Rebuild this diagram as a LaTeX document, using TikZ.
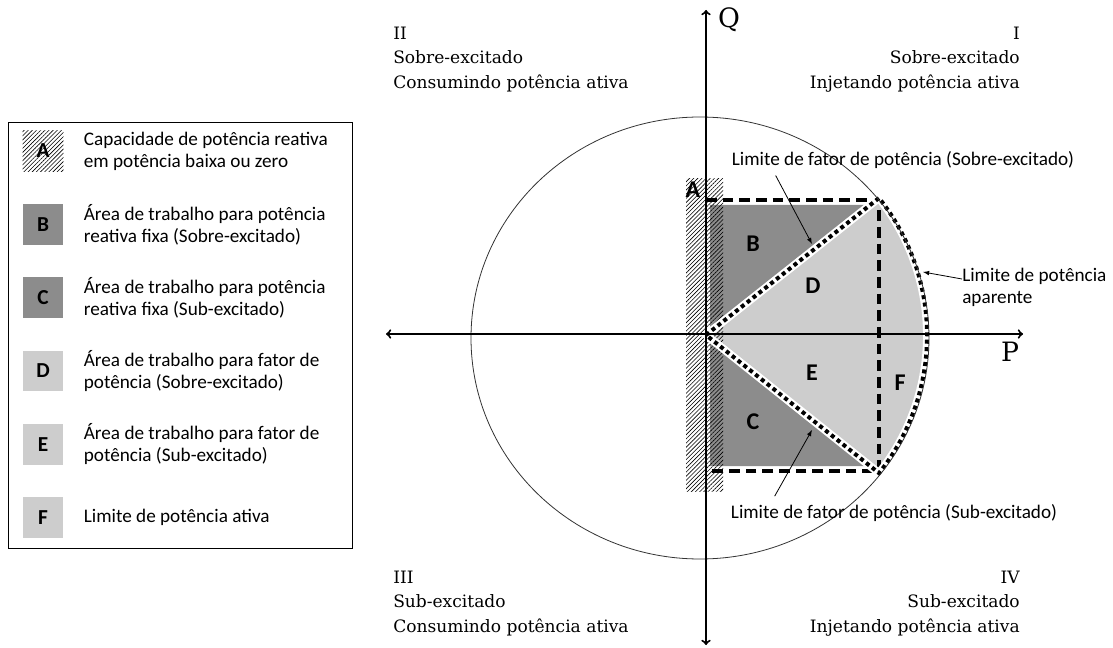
\documentclass[tikz,border=0pt]{standalone}
\usepackage{fontspec}
\setmainfont{DejaVu Serif}
\newfontfamily\calfont{Carlito}
\usetikzlibrary{arrows,patterns.meta,positioning}

\definecolor{darkarea}{RGB}{140,140,140}
\definecolor{lightarea}{RGB}{205,205,205}

\begin{document}
\begin{tikzpicture}[x=0.75pt,y=-0.75pt,node distance=55pt,
  axis/.style={<->,>=to,line width=1.5pt},
  pointer/.style={-latex,line width=0.6pt},
  hatch/.style={pattern={Lines[angle=45,distance=2.2pt,line width=0.45pt]}},
  border/.style={white,line width=6pt},
  limit/.style={line width=3pt,dash pattern=on 3pt off 2.6pt},
  work/.style={line width=2.8pt,dash pattern=on 8pt off 4.5pt},
  note/.style={font=\calfont\fontsize{14.4}{16.5}\selectfont,align=left,inner sep=0pt},
  quad/.style={font=\fontsize{12.8}{18.2}\selectfont,inner sep=0pt},
  letter/.style={font=\calfont\bfseries\fontsize{18}{18}\selectfont},
  key/.style={minimum size=30.5pt,inner sep=0pt,font=\calfont\bfseries\fontsize{16}{16}\selectfont}]

  \useasboundingbox (0,0) rectangle (1113,648);

  % operating region
  \coordinate (O) at (706,335);
  \coordinate (T) at (879,198);
  \fill[lightarea] (O) -- (T) arc[start angle=-38.5,end angle=38.5,radius=221] -- cycle;
  \fill[darkarea] (710,205) -- (870,205) -- (710,331) -- cycle;
  \fill[darkarea] (710,466) -- (870,466) -- (710,339) -- cycle;
  \fill[hatch] (686,179) rectangle (723,491);
  \draw[work] (706,200) -- (879,200) -- (879,471) -- (706,471);
  \draw[border] (O) -- (T) arc[start angle=-38.5,end angle=38.5,radius=221] -- cycle;
  \draw[limit] (O) -- (T) arc[start angle=-38.5,end angle=38.5,radius=221] -- cycle;
  \draw[line width=0.6pt,black!80] (700,338) ellipse[x radius=229,y radius=221];

  % axes
  \coordinate (Qtop) at (706,10);
  \coordinate (Qbot) at (706,645);
  \coordinate (Pleft) at (386,334);
  \coordinate (Pright) at (1023,334);
  \draw[axis] (Qbot) -- (Qtop);
  \draw[axis] (Pleft) -- (Pright);
  \node[font=\fontsize{20}{20}\selectfont] (Q) at (729,20) {Q};
  \node[font=\fontsize{20}{20}\selectfont] (P) at (1010,352) {P};

  % quadrants
  \node[quad,anchor=north west,align=left] (q2) at (393,27) {II\\Sobre-excitado\\Consumindo potência ativa};
  \node[quad,anchor=north east,align=right] (q1) at (1020,27) {I\\Sobre-excitado\\Injetando potência ativa};
  \node[quad,anchor=north west,align=left] (q3) at (393,571) {III\\Sub-excitado\\Consumindo potência ativa};
  \node[quad,anchor=north east,align=right] (q4) at (1020,571) {IV\\Sub-excitado\\Injetando potência ativa};

  % area letters
  \node[letter] (a) at (693,190) {A};
  \node[letter] (b) at (753,244) {B};
  \node[letter] (c) at (753,422) {C};
  \node[letter] (d) at (813,286) {D};
  \node[letter] (e) at (812,373) {E};
  \node[letter] (f) at (900,383) {F};

  % limits
  \node[note] (lfs) at (903,160) {Limite de fator de potência (Sobre-excitado)};
  \node[note] (lfu) at (894,513) {Limite de fator de potência (Sub-excitado)};
  \node[note,anchor=west] (lpa) at (962,287) {Limite de potência\\aparente};
  \coordinate (p1) at (812,244);
  \coordinate (p2) at (812,430);
  \coordinate (p3) at (923,272);
  \draw[pointer] ([xshift=33pt,yshift=-5pt]lfs.south west) -- (p1);
  \draw[pointer] ([xshift=33pt,yshift=6pt]lfu.north west) -- (p2);
  \draw[pointer] ([yshift=6pt]lpa.west) -- (p3);

  % legend
  \draw[line width=0.6pt] (8,122) rectangle (352,548);
  \node[key,hatch] (ka) at (43,151) {A};
  \node[key,fill=darkarea] (kb) [below of=ka] {B};
  \node[key,fill=darkarea] (kc) [below of=kb] {C};
  \node[key,fill=lightarea] (kd) [below of=kc] {D};
  \node[key,fill=lightarea] (ke) [below of=kd] {E};
  \node[key,fill=lightarea] (kf) [below of=ke] {F};
  \node[note,right=15pt of ka] (ta) {Capacidade de potência reativa\\em potência baixa ou zero};
  \node[note,right=15pt of kb] (tb) {Área de trabalho para potência\\reativa fixa (Sobre-excitado)};
  \node[note,right=15pt of kc] (tc) {Área de trabalho para potência\\reativa fixa (Sub-excitado)};
  \node[note,right=15pt of kd] (td) {Área de trabalho para fator de\\potência (Sobre-excitado)};
  \node[note,right=15pt of ke] (te) {Área de trabalho para fator de\\potência (Sub-excitado)};
  \node[note,right=15pt of kf] (tf) {Limite de potência ativa};
\end{tikzpicture}
\end{document}
